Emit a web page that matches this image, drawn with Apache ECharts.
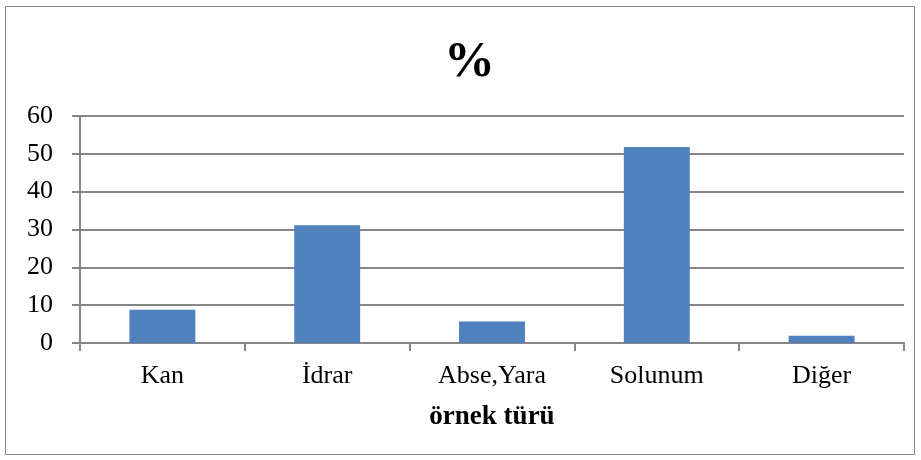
<!DOCTYPE html>
<html><head><meta charset="utf-8">
<script src="https://cdn.jsdelivr.net/npm/echarts@6/dist/echarts.min.js"></script>
<style>html,body{margin:0;padding:0;background:#fff}#c{width:921px;height:460px}</style>
</head><body><div id="c"></div>
<script>
var categories = ['Kan', 'İdrar', 'Abse,Yara', 'Solunum', 'Diğer'];
var values = [8.8, 31.1, 5.7, 51.8, 1.9];
var titleText = '%';
var xAxisTitle = 'örnek türü';

var chart = echarts.init(document.getElementById('c'));
var font = "'Liberation Serif', serif";
chart.setOption({
  animation: false,
  title: { text: titleText, left: 439, top: 32,
    textStyle: { fontFamily: font, fontSize: 51, fontWeight: 'bold', color: '#000' } },
  graphic: [{ type: 'rect', shape: { x: 5.5, y: 6.5, width: 909, height: 448 },
    style: { fill: null, stroke: '#868686', lineWidth: 1 } }],
  grid: { left: 80, right: 17, top: 116, bottom: 117 },
  xAxis: {
    type: 'category', data: categories,
    name: xAxisTitle, nameLocation: 'middle', nameGap: 61,
    nameTextStyle: { fontFamily: font, fontSize: 27, fontWeight: 'bold', color: '#000' },
    axisLine: { lineStyle: { color: '#868686', width: 2 } },
    axisTick: { show: true, length: 8, lineStyle: { color: '#868686', width: 2 } },
    axisLabel: { fontFamily: font, fontSize: 26, color: '#000', margin: 20 }
  },
  yAxis: {
    type: 'value', min: 0, max: 60, interval: 10,
    axisLine: { show: true, lineStyle: { color: '#868686', width: 2 } },
    axisTick: { show: true, length: 8, lineStyle: { color: '#868686', width: 2 } },
    axisLabel: { fontFamily: font, fontSize: 26, color: '#000', margin: 27 },
    splitLine: { lineStyle: { color: '#868686', width: 2 } }
  },
  series: [{ type: 'bar', data: values, barWidth: '40%',
    itemStyle: { color: '#4F81BD' } }]
});
</script></body></html>
